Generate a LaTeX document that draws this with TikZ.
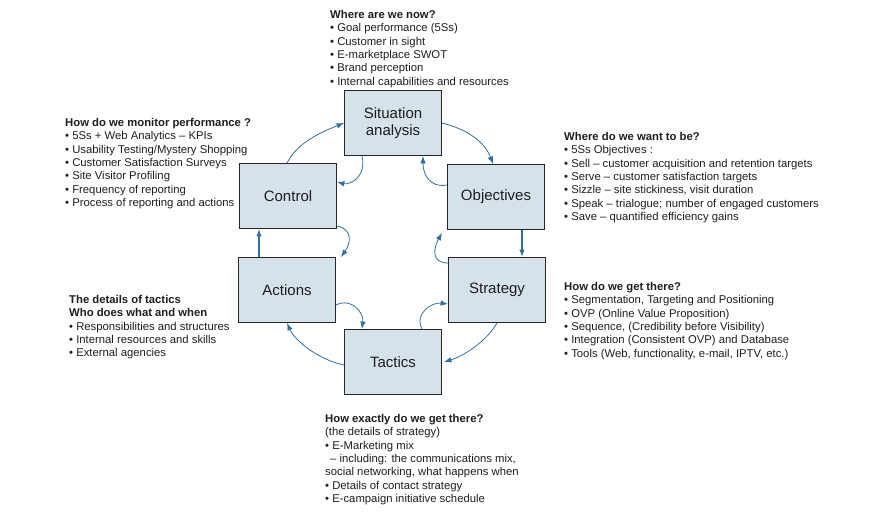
\documentclass[tikz,border=0pt]{standalone}
\usepackage{fontspec}
\setmainfont{Liberation Sans}
\usepackage{xcolor}
\usepackage{tikz}
\usetikzlibrary{arrows.meta, positioning}

\definecolor{boxfill}{RGB}{214,226,234}
\definecolor{flowblue}{RGB}{50,110,160}
\definecolor{inkgray}{RGB}{30,30,30}
\newcommand{\itm}{\textbullet\ }

\tikzset{
  stage/.style={draw=black!85, line width=0.8pt, fill=boxfill,
    minimum width=97pt, minimum height=65pt, inner sep=0pt,
    align=center, font=\fontsize{15}{17}\selectfont, text=inkgray},
  notes/.style={anchor=north west, align=left, inner sep=0pt,
    font=\fontsize{11.3}{13.4}\selectfont, text=inkgray},
  flow/.style={-{Latex[length=7.5pt,width=5.5pt]}, line width=0.8pt, draw=flowblue},
  flowthick/.style={flow, line width=1.6pt}
}

\begin{document}
\begin{tikzpicture}[x=1pt, y=-1pt]
  \useasboundingbox (0,0) rectangle (880,514);
  % Planning stages
  \foreach \nm/\xx/\yy/\lbl in
    {sit/393/123/{Situation\\analysis}, ctrl/288/196/Control, obj/496/197/Objectives,
     act/287/290/Actions, strat/497/290/Strategy, tac/393/362/Tactics} {
    \node[stage] (\nm) at (\xx,\yy) {\lbl};
  }
  % Questions round the cycle
  \node[notes] (nowtxt) at (330,10) {\textbf{Where are we now?}\\
    \itm Goal performance (5Ss)\\
    \itm Customer in sight\\
    \itm E-marketplace SWOT\\
    \itm Brand perception\\
    \itm Internal capabilities and resources};
  \node[notes] (montxt) at (65,118) {\textbf{How do we monitor performance ?}\\
    \itm 5Ss + Web Analytics -- KPIs\\
    \itm Usability Testing/Mystery Shopping\\
    \itm Customer Satisfaction Surveys\\
    \itm Site Visitor Profiling\\
    \itm Frequency of reporting\\
    \itm Process of reporting and actions};
  \node[notes] (wanttxt) at (564,132) {\textbf{Where do we want to be?}\\
    \itm 5Ss Objectives :\\
    \itm Sell -- customer acquisition and retention targets\\
    \itm Serve -- customer satisfaction targets\\
    \itm Sizzle -- site stickiness, visit duration\\
    \itm Speak -- trialogue; number of engaged customers\\
    \itm Save -- quantified efficiency gains};
  \node[notes] (gettxt) at (564,282) {\textbf{How do we get there?}\\
    \itm Segmentation, Targeting and Positioning\\
    \itm OVP (Online Value Proposition)\\
    \itm Sequence, (Credibility before Visibility)\\
    \itm Integration (Consistent OVP) and Database\\
    \itm Tools (Web, functionality, e-mail, IPTV, etc.)};
  \node[notes] (whotxt) at (69,295) {\textbf{The details of tactics}\\
    \textbf{Who does what and when}\\
    \itm Responsibilities and structures\\
    \itm Internal resources and skills\\
    \itm External agencies};
  \node[notes] (howtxt) at (325,414) {\textbf{How exactly do we get there?}\\
    (the details of strategy)\\
    \itm E-Marketing mix\\
    \hspace*{5pt}-- including: the communications mix,\\
    social networking, what happens when\\
    \itm Details of contact strategy\\
    \itm E-campaign initiative schedule};
  % Outer loop
  \draw[flow] ([xshift=-1pt]ctrl.north) .. controls +(10,-20) and +(-25,10) .. (sit.west);
  \draw[flow] (sit.east) .. controls +(25,6) and +(-8,-22) .. ([xshift=-3pt]obj.north);
  \draw[flowthick] ([xshift=26pt]obj.south) -- ([xshift=25pt]strat.north);
  \draw[flow] (strat.south) .. controls +(-10,18) and +(20,-6) .. ([xshift=2pt]tac.east);
  \draw[flow] ([yshift=-3pt]tac.west) .. controls +(-25,-5) and +(8,18) .. (act.south);
  \draw[flowthick] ([xshift=-28pt]act.north) -- ([xshift=-29pt]ctrl.south);
  % Feedback loops
  \draw[flow] ([xshift=-31pt]sit.south) .. controls +(5,22) and +(12,3) .. ([yshift=14pt]ctrl.east);
  \draw[flow] ([yshift=12pt]obj.west) .. controls +(-18,3) and +(0,18) .. ([xshift=30pt]sit.south);
  \draw[flow] ([yshift=-30pt]ctrl.east) .. controls +(16,3) and +(10,-14) .. ([xshift=5pt]act.north east);
  \draw[flow] ([yshift=27pt]strat.west) .. controls +(-18,0) and +(-8,14) .. ([shift={(-5pt,-3pt)}]obj.south west);
  \draw[flow] ([yshift=-15pt]act.east) .. controls +(16,-8) and +(2,-16) .. ([xshift=-31pt]tac.north);
  \draw[flow] ([xshift=29pt]tac.north) .. controls +(-8,-16) and +(-16,-2) .. ([yshift=-14pt]strat.west);
\end{tikzpicture}
\end{document}
